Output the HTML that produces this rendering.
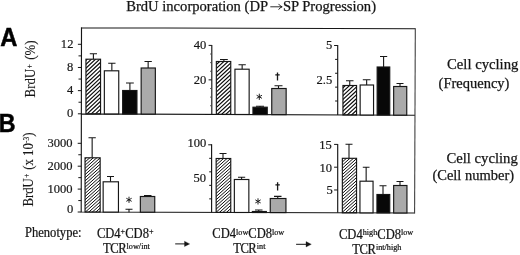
<!DOCTYPE html>
<html><head><meta charset="utf-8"><title>BrdU incorporation</title>
<style>
html,body{margin:0;padding:0;background:#fff;}
body{width:520px;height:255px;overflow:hidden;font-family:"Liberation Serif",serif;}
svg{display:block;will-change:transform;filter:grayscale(1);}
svg text{font-family:"Liberation Serif",serif;fill:#161616;stroke:#161616;stroke-width:0.25px;}
svg text.tl{stroke-width:0.2px;}
svg text.rl{stroke-width:0.12px;}
svg text.sans{font-family:"Liberation Sans",sans-serif;font-weight:bold;fill:#000;stroke:#000;stroke-width:0.5px;}
</style></head><body>
<svg width="520" height="255" viewBox="0 0 520 255">
<defs>
<clipPath id="c0"><rect x="85.95" y="59.20" width="14.60" height="54.65"/></clipPath><clipPath id="c1"><rect x="85.05" y="157.80" width="15.10" height="54.23"/></clipPath><clipPath id="c2"><rect x="216.35" y="61.50" width="14.40" height="52.90"/></clipPath><clipPath id="c3"><rect x="216.15" y="158.50" width="14.60" height="53.93"/></clipPath><clipPath id="c4"><rect x="342.95" y="85.50" width="13.60" height="29.43"/></clipPath><clipPath id="c5"><rect x="342.35" y="158.30" width="14.20" height="54.50"/></clipPath>
</defs>
<rect width="520" height="255" fill="#fff"/>
<text x="126.2" y="11" font-size="14.6">BrdU incorporation (DP</text>
<path d="M270.3 6.8H282M278.6 3.9Q279.6 6 282.2 6.8Q279.6 7.6 278.6 9.7" stroke="#161616" stroke-width="0.9" fill="none"/>
<text x="282.9" y="11" font-size="14.6">SP Progression)</text>
<text transform="translate(0.20,45.80) scale(0.93,1)" font-size="25.5" text-anchor="start" class="sans">A</text>
<text transform="translate(-1.20,131.80) scale(0.93,1)" font-size="25" text-anchor="start" class="sans">B</text>
<path d="M81.5 27.8L415.3 28.7M81.5 113.8L415.0 115.2M81.2 212.0L414.6 213.0M81.5 27.3L81.2 212.5" stroke="#161616" stroke-width="1.15" fill="none"/><path d="M415.3 28.2L414.6 213.5" stroke="#3a3a3a" stroke-width="1.05" fill="none"/>
<path d="M211.8 44.90V114.35M211.60000000000002 144.30V212.39M337.7 45.00V114.88M337.7 143.90V212.77" stroke="#161616" stroke-width="1.15" fill="none"/>
<path d="M77.90 113.80H81.50M77.90 90.63H81.50M77.90 67.47H81.50M77.90 44.30H81.50M78.50 102.22H81.50M78.50 79.05H81.50M78.50 55.88H81.50M77.70 212.00H81.30M77.70 189.10H81.30M77.70 166.20H81.30M77.70 143.30H81.30M78.30 200.55H81.30M78.30 177.65H81.30M78.30 154.75H81.30M208.60 79.87H211.80M208.60 45.40H211.80M208.20 144.80H211.80M209.20 198.87H211.80M209.20 185.36H211.80M209.20 171.84H211.80M209.20 158.32H211.80M334.10 45.50H337.70M335.10 101.00H337.70M335.10 87.13H337.70M335.10 73.25H337.70M335.10 59.38H337.70M334.10 189.98H337.70M334.10 167.19H337.70M334.10 144.40H337.70" stroke="#161616" stroke-width="1" fill="none"/><path d="M210.10 105.73H211.80M210.10 97.11H211.80M210.10 88.49H211.80M210.10 71.26H211.80M210.10 62.64H211.80M210.10 54.02H211.80" stroke="#444" stroke-width="0.9" fill="none"/>
<path clip-path="url(#c0)" d="M85.0 127.60L101.5 112.12M85.0 123.70L101.5 108.22M85.0 119.80L101.5 104.32M85.0 115.90L101.5 100.42M85.0 112.00L101.5 96.52M85.0 108.10L101.5 92.62M85.0 104.20L101.5 88.72M85.0 100.30L101.5 84.82M85.0 96.40L101.5 80.92M85.0 92.50L101.5 77.02M85.0 88.60L101.5 73.12M85.0 84.70L101.5 69.22M85.0 80.80L101.5 65.32M85.0 76.90L101.5 61.42M85.0 73.00L101.5 57.52M85.0 69.10L101.5 53.62M85.0 65.20L101.5 49.72M85.0 61.30L101.5 45.82M85.0 57.40L101.5 41.92" stroke="#0c0c0c" stroke-width="1.17" fill="none"/>
<path d="M93.40 59.20V53.80M89.80 53.80H97.00" stroke="#161616" stroke-width="1.1" fill="none"/>
<rect x="85.95" y="59.20" width="14.60" height="54.65" fill="none" stroke="#161616" stroke-width="1.15"/>
<path d="M111.85 70.80V63.30M108.20 63.30H115.50" stroke="#161616" stroke-width="1.1" fill="none"/>
<rect x="104.35" y="70.80" width="14.40" height="43.13" fill="#fff" stroke="#161616" stroke-width="1.15"/>
<path d="M129.90 90.50V83.00M126.00 83.00H133.80" stroke="#161616" stroke-width="1.1" fill="none"/>
<rect x="122.65" y="90.50" width="14.30" height="23.50" fill="#080808" stroke="#161616" stroke-width="1.15"/>
<path d="M148.15 68.00V61.50M144.50 61.50H151.80" stroke="#161616" stroke-width="1.1" fill="none"/>
<rect x="141.15" y="68.00" width="14.20" height="46.08" fill="#aaaaaa" stroke="#161616" stroke-width="1.15"/>
<path clip-path="url(#c1)" d="M84.1 225.73L101.2 210.33M84.1 222.59L101.2 207.19M84.1 219.45L101.2 204.05M84.1 216.31L101.2 200.91M84.1 213.17L101.2 197.77M84.1 210.03L101.2 194.63M84.1 206.89L101.2 191.49M84.1 203.75L101.2 188.35M84.1 200.61L101.2 185.21M84.1 197.47L101.2 182.07M84.1 194.33L101.2 178.93M84.1 191.19L101.2 175.79M84.1 188.05L101.2 172.65M84.1 184.91L101.2 169.51M84.1 181.77L101.2 166.37M84.1 178.63L101.2 163.23M84.1 175.49L101.2 160.09M84.1 172.35L101.2 156.95M84.1 169.21L101.2 153.81M84.1 166.07L101.2 150.67M84.1 162.93L101.2 147.53M84.1 159.79L101.2 144.39M84.1 156.65L101.2 141.25" stroke="#0c0c0c" stroke-width="1.00" fill="none"/>
<path d="M92.15 157.80V137.80M88.50 137.80H95.80" stroke="#161616" stroke-width="1.1" fill="none"/>
<rect x="85.05" y="157.80" width="15.10" height="54.23" fill="none" stroke="#161616" stroke-width="1.15"/>
<path d="M110.50 181.80V176.50M107.00 176.50H114.00" stroke="#161616" stroke-width="1.1" fill="none"/>
<rect x="103.15" y="181.80" width="15.30" height="30.29" fill="#fff" stroke="#161616" stroke-width="1.15"/>
<path d="M147.75 196.50V195.50M144.00 195.50H151.50" stroke="#161616" stroke-width="1.1" fill="none"/>
<rect x="140.35" y="196.50" width="14.40" height="15.70" fill="#aaaaaa" stroke="#161616" stroke-width="1.15"/>
<path d="M129 212.14V209.2M125.5 209.2H132.5" stroke="#161616" stroke-width="1.1" fill="none"/>
<path clip-path="url(#c2)" d="M215.3 127.96L231.8 112.66M215.3 124.06L231.8 108.76M215.3 120.16L231.8 104.86M215.3 116.26L231.8 100.96M215.3 112.36L231.8 97.06M215.3 108.46L231.8 93.16M215.3 104.56L231.8 89.26M215.3 100.66L231.8 85.36M215.3 96.76L231.8 81.46M215.3 92.86L231.8 77.56M215.3 88.96L231.8 73.66M215.3 85.06L231.8 69.76M215.3 81.16L231.8 65.86M215.3 77.26L231.8 61.96M215.3 73.36L231.8 58.06M215.3 69.46L231.8 54.16M215.3 65.56L231.8 50.26M215.3 61.66L231.8 46.36" stroke="#0c0c0c" stroke-width="1.17" fill="none"/>
<path d="M223.90 61.50V59.50M220.00 59.50H227.80" stroke="#161616" stroke-width="1.1" fill="none"/>
<rect x="216.35" y="61.50" width="14.40" height="52.90" fill="none" stroke="#161616" stroke-width="1.15"/>
<path d="M242.15 69.20V64.70M238.50 64.70H245.80" stroke="#161616" stroke-width="1.1" fill="none"/>
<rect x="234.95" y="69.20" width="14.20" height="45.27" fill="#fff" stroke="#161616" stroke-width="1.15"/>
<path d="M260.00 107.20V106.30M256.00 106.30H264.00" stroke="#161616" stroke-width="1.1" fill="none"/>
<rect x="252.95" y="107.20" width="14.30" height="7.35" fill="#080808" stroke="#161616" stroke-width="1.15"/>
<path d="M278.50 88.50V85.80M274.50 85.80H282.50" stroke="#161616" stroke-width="1.1" fill="none"/>
<rect x="271.75" y="88.50" width="14.40" height="26.13" fill="#aaaaaa" stroke="#161616" stroke-width="1.15"/>
<path clip-path="url(#c3)" d="M215.2 225.67L231.8 210.73M215.2 222.53L231.8 207.59M215.2 219.39L231.8 204.45M215.2 216.25L231.8 201.31M215.2 213.11L231.8 198.17M215.2 209.97L231.8 195.03M215.2 206.83L231.8 191.89M215.2 203.69L231.8 188.75M215.2 200.55L231.8 185.61M215.2 197.41L231.8 182.47M215.2 194.27L231.8 179.33M215.2 191.13L231.8 176.19M215.2 187.99L231.8 173.05M215.2 184.85L231.8 169.91M215.2 181.71L231.8 166.77M215.2 178.57L231.8 163.63M215.2 175.43L231.8 160.49M215.2 172.29L231.8 157.35M215.2 169.15L231.8 154.21M215.2 166.01L231.8 151.07M215.2 162.87L231.8 147.93M215.2 159.73L231.8 144.79M215.2 156.59L231.8 141.65" stroke="#0c0c0c" stroke-width="1.00" fill="none"/>
<path d="M223.00 158.50V153.50M219.50 153.50H226.50" stroke="#161616" stroke-width="1.1" fill="none"/>
<rect x="216.15" y="158.50" width="14.60" height="53.93" fill="none" stroke="#161616" stroke-width="1.15"/>
<path d="M241.60 179.50V177.30M238.00 177.30H245.20" stroke="#161616" stroke-width="1.1" fill="none"/>
<rect x="234.35" y="179.50" width="14.50" height="32.98" fill="#fff" stroke="#161616" stroke-width="1.15"/>
<path d="M258.75 211.50V210.00M255.00 210.00H262.50" stroke="#161616" stroke-width="1.1" fill="none"/>
<rect x="252.35" y="211.50" width="14.00" height="1.03" fill="#080808" stroke="#161616" stroke-width="1.15"/>
<path d="M277.75 198.50V196.40M274.00 196.40H281.50" stroke="#161616" stroke-width="1.1" fill="none"/>
<rect x="270.25" y="198.50" width="15.70" height="14.09" fill="#aaaaaa" stroke="#161616" stroke-width="1.15"/>
<path clip-path="url(#c4)" d="M341.9 127.74L357.6 113.19M341.9 123.84L357.6 109.29M341.9 119.94L357.6 105.39M341.9 116.04L357.6 101.49M341.9 112.14L357.6 97.59M341.9 108.24L357.6 93.69M341.9 104.34L357.6 89.79M341.9 100.44L357.6 85.89M341.9 96.54L357.6 81.99M341.9 92.64L357.6 78.09M341.9 88.74L357.6 74.19M341.9 84.84L357.6 70.29" stroke="#0c0c0c" stroke-width="1.17" fill="none"/>
<path d="M349.75 85.50V80.80M346.00 80.80H353.50" stroke="#161616" stroke-width="1.1" fill="none"/>
<rect x="342.95" y="85.50" width="13.60" height="29.43" fill="none" stroke="#161616" stroke-width="1.15"/>
<path d="M366.65 85.00V79.80M362.80 79.80H370.50" stroke="#161616" stroke-width="1.1" fill="none"/>
<rect x="360.15" y="85.00" width="13.40" height="30.00" fill="#fff" stroke="#161616" stroke-width="1.15"/>
<path d="M383.60 67.00V56.50M380.00 56.50H387.20" stroke="#161616" stroke-width="1.1" fill="none"/>
<rect x="377.15" y="67.00" width="12.60" height="48.07" fill="#080808" stroke="#161616" stroke-width="1.15"/>
<path d="M400.00 86.50V83.50M396.50 83.50H403.50" stroke="#161616" stroke-width="1.1" fill="none"/>
<rect x="393.65" y="86.50" width="13.10" height="28.64" fill="#aaaaaa" stroke="#161616" stroke-width="1.15"/>
<path clip-path="url(#c5)" d="M341.3 225.69L357.6 211.10M341.3 222.55L357.6 207.96M341.3 219.41L357.6 204.82M341.3 216.27L357.6 201.68M341.3 213.13L357.6 198.54M341.3 209.99L357.6 195.40M341.3 206.85L357.6 192.26M341.3 203.71L357.6 189.12M341.3 200.57L357.6 185.98M341.3 197.43L357.6 182.84M341.3 194.29L357.6 179.70M341.3 191.15L357.6 176.56M341.3 188.01L357.6 173.42M341.3 184.87L357.6 170.28M341.3 181.73L357.6 167.14M341.3 178.59L357.6 164.00M341.3 175.45L357.6 160.86M341.3 172.31L357.6 157.72M341.3 169.17L357.6 154.58M341.3 166.03L357.6 151.44M341.3 162.89L357.6 148.30M341.3 159.75L357.6 145.16M341.3 156.61L357.6 142.02" stroke="#0c0c0c" stroke-width="1.00" fill="none"/>
<path d="M349.00 158.30V144.20M345.50 144.20H352.50" stroke="#161616" stroke-width="1.1" fill="none"/>
<rect x="342.35" y="158.30" width="14.20" height="54.50" fill="none" stroke="#161616" stroke-width="1.15"/>
<path d="M366.15 181.20V167.20M362.80 167.20H369.50" stroke="#161616" stroke-width="1.1" fill="none"/>
<rect x="359.95" y="181.20" width="13.10" height="31.66" fill="#fff" stroke="#161616" stroke-width="1.15"/>
<path d="M383.00 194.50V185.80M379.50 185.80H386.50" stroke="#161616" stroke-width="1.1" fill="none"/>
<rect x="376.95" y="194.50" width="12.80" height="18.41" fill="#080808" stroke="#161616" stroke-width="1.15"/>
<path d="M400.00 185.50V181.50M396.50 181.50H403.50" stroke="#161616" stroke-width="1.1" fill="none"/>
<rect x="393.65" y="185.50" width="13.30" height="27.46" fill="#aaaaaa" stroke="#161616" stroke-width="1.15"/>
<text transform="translate(73.40,47.60) scale(0.93,1)" font-size="13.5" text-anchor="end" class="tl">12</text>
<text transform="translate(73.40,70.77) scale(0.93,1)" font-size="13.5" text-anchor="end" class="tl">8</text>
<text transform="translate(73.40,93.93) scale(0.93,1)" font-size="13.5" text-anchor="end" class="tl">4</text>
<text transform="translate(73.40,116.60) scale(0.93,1)" font-size="13.5" text-anchor="end" class="tl">0</text>
<text transform="translate(72.60,146.70) scale(0.93,1)" font-size="13.5" text-anchor="end" class="tl">3000</text>
<text transform="translate(72.60,169.60) scale(0.93,1)" font-size="13.5" text-anchor="end" class="tl">2000</text>
<text transform="translate(72.60,192.50) scale(0.93,1)" font-size="13.5" text-anchor="end" class="tl">1000</text>
<text transform="translate(73.20,212.90) scale(0.93,1)" font-size="13.5" text-anchor="end" class="tl">0</text>
<text transform="translate(206.30,49.20) scale(0.93,1)" font-size="13.5" text-anchor="end" class="tl">40</text>
<text transform="translate(206.30,83.80) scale(0.93,1)" font-size="13.5" text-anchor="end" class="tl">20</text>
<text transform="translate(206.30,146.90) scale(0.93,1)" font-size="13.5" text-anchor="end" class="tl">100</text>
<text transform="translate(206.10,182.40) scale(0.93,1)" font-size="13.5" text-anchor="end" class="tl">50</text>
<text transform="translate(332.40,49.20) scale(0.93,1)" font-size="13.5" text-anchor="end" class="tl">5</text>
<text transform="translate(332.20,83.80) scale(0.93,1)" font-size="13.5" text-anchor="end" class="tl">2.5</text>
<text transform="translate(331.80,149.20) scale(0.93,1)" font-size="13.5" text-anchor="end" class="tl">15</text>
<text transform="translate(332.00,171.80) scale(0.93,1)" font-size="13.5" text-anchor="end" class="tl">10</text>
<text transform="translate(332.80,194.40) scale(0.93,1)" font-size="13.5" text-anchor="end" class="tl">5</text>
<path d="M129.00 196.70L129.00 202.90M126.32 198.25L131.68 201.35M131.68 198.25L126.32 201.35" stroke="#161616" stroke-width="0.95" fill="none"/>
<path d="M259.30 93.70L259.30 99.90M256.62 95.25L261.98 98.35M261.98 95.25L256.62 98.35" stroke="#161616" stroke-width="0.95" fill="none"/>
<path d="M258.00 198.30L258.00 204.50M255.32 199.85L260.68 202.95M260.68 199.85L255.32 202.95" stroke="#161616" stroke-width="0.95" fill="none"/>
<path d="M277.50 72.50V80.60M275.30 74.90H279.70" stroke="#161616" stroke-width="1.3" fill="none"/>
<path d="M277.60 182.30V190.50M275.40 184.80H279.80" stroke="#161616" stroke-width="1.3" fill="none"/>
<text transform="translate(35.20,97.40) rotate(-90) scale(0.95,1)" font-size="13.6" text-anchor="start" class="rl">BrdU<tspan font-size="7.5" dy="-3.4" dx="0.6">+</tspan><tspan dy="3.4" dx="1.2"> (%)</tspan></text>
<text transform="translate(32.80,206.60) rotate(-90) scale(0.94,1)" font-size="13.6" text-anchor="start" class="rl">BrdU<tspan font-size="7.5" dy="-3.4" dx="0.6">+</tspan><tspan dy="3.4" dx="0.8"> (x 10</tspan><tspan font-size="8" dy="-4.2">-3</tspan><tspan dy="4.2">)</tspan></text>
<text x="447" y="69.4" font-size="14.7">Cell cycling</text>
<text x="438.6" y="87.8" font-size="14.5">(Frequency)</text>
<text x="446.4" y="162.9" font-size="14.7">Cell cycling</text>
<text x="432.4" y="180.2" font-size="14.5">(Cell number)</text>
<text transform="translate(25.00,237.20) scale(0.91,1)" font-size="13.8" text-anchor="start">Phenotype:</text>
<text transform="translate(96.90,238.00) scale(0.91,1)" font-size="13.8" text-anchor="start">CD4<tspan font-size="9.0" dy="-3.7">+</tspan><tspan dy="3.7">CD8</tspan><tspan font-size="9.0" dy="-3.7">+</tspan></text>
<text transform="translate(103.00,252.50) scale(0.91,1)" font-size="13.8" text-anchor="start"><tspan letter-spacing="-0.5">TCR</tspan><tspan dx="0.6" font-size="9.0" dy="-3.7">low/int</tspan></text>
<text transform="translate(212.30,238.20) scale(0.91,1)" font-size="13.8" text-anchor="start">CD4<tspan font-size="9.0" dy="-3.7">low</tspan><tspan dy="3.7">CD8</tspan><tspan font-size="9.0" dy="-3.7">low</tspan></text>
<text transform="translate(233.20,253.00) scale(0.91,1)" font-size="13.8" text-anchor="start"><tspan letter-spacing="-0.5">TCR</tspan><tspan dx="0.6" font-size="9.0" dy="-3.7">int</tspan></text>
<text transform="translate(339.00,238.50) scale(0.91,1)" font-size="13.8" text-anchor="start">CD4<tspan font-size="9.0" dy="-3.7">high</tspan><tspan dy="3.7">CD8</tspan><tspan font-size="9.0" dy="-3.7">low</tspan></text>
<text transform="translate(352.30,253.80) scale(0.91,1)" font-size="13.8" text-anchor="start"><tspan letter-spacing="-0.5">TCR</tspan><tspan dx="0.6" font-size="9.0" dy="-3.7">int/high</tspan></text>
<path d="M175.2 243.9H186M296.1 244.3H307.5" stroke="#161616" stroke-width="1.0" fill="none"/><path d="M184.5 241.2L189.7 243.9L184.5 246.6ZM306 241.6L311.3 244.3L306 247Z" fill="#161616" stroke="#161616" stroke-width="0.3"/>
</svg>
</body></html>
